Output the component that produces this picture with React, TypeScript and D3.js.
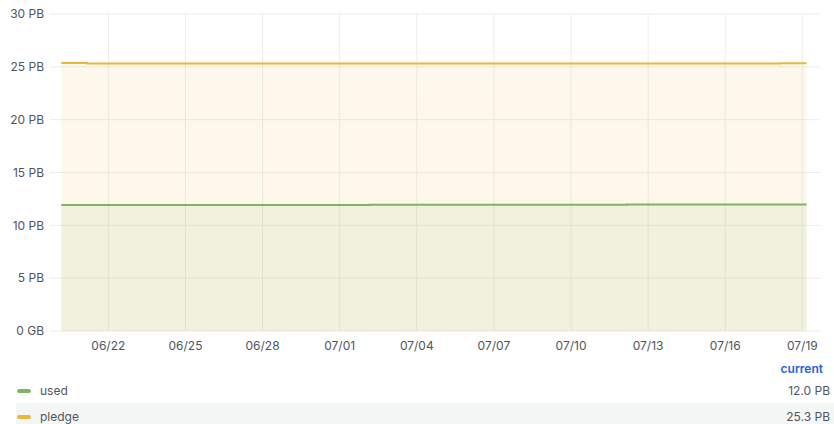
import React from "react";
import * as d3 from "d3";

const dates: string[] = [
  "2024-06-20T04:00", "2024-06-21T04:00", "2024-06-22T04:00", "2024-06-23T04:00", "2024-06-24T04:00",
  "2024-06-25T04:00", "2024-06-26T04:00", "2024-06-27T04:00", "2024-06-28T04:00", "2024-06-29T04:00",
  "2024-06-30T04:00", "2024-07-01T04:00", "2024-07-02T04:00", "2024-07-03T04:00", "2024-07-04T04:00",
  "2024-07-05T04:00", "2024-07-06T04:00", "2024-07-07T04:00", "2024-07-08T04:00", "2024-07-09T04:00",
  "2024-07-10T04:00", "2024-07-11T04:00", "2024-07-12T04:00", "2024-07-13T04:00", "2024-07-14T04:00",
  "2024-07-15T04:00", "2024-07-16T04:00", "2024-07-17T04:00", "2024-07-18T04:00", "2024-07-19T04:00",
];

// values in PB
const usedValues: number[] = [
  11.93, 11.93, 11.93, 11.93, 11.93, 11.93, 11.93, 11.93, 11.93, 11.93,
  11.93, 11.93, 11.95, 11.95, 11.95, 11.95, 11.95, 11.95, 11.95, 11.95,
  11.95, 11.95, 11.98, 11.98, 11.98, 11.98, 11.98, 11.98, 11.98, 11.98,
];
const pledgeValues: number[] = [
  25.36, 25.31, 25.31, 25.31, 25.31, 25.31, 25.31, 25.31, 25.31, 25.31,
  25.31, 25.31, 25.31, 25.31, 25.31, 25.31, 25.31, 25.31, 25.31, 25.31,
  25.31, 25.31, 25.31, 25.31, 25.31, 25.31, 25.31, 25.31, 25.34, 25.34,
];

const yTicks: number[] = [0, 5, 10, 15, 20, 25, 30];
const yTickLabels: string[] = ["0 GB", "5 PB", "10 PB", "15 PB", "20 PB", "25 PB", "30 PB"];
const xTickDates: string[] = [
  "2024-06-22", "2024-06-25", "2024-06-28", "2024-07-01", "2024-07-04",
  "2024-07-07", "2024-07-10", "2024-07-13", "2024-07-16", "2024-07-19",
];
const seriesNames: string[] = ["used", "pledge"];
const seriesCurrent: string[] = ["12.0 PB", "25.3 PB"];
const seriesColors: string[] = ["#7fb466", "#e9b83a"];

const parse = (s: string) => new Date(s.length > 10 ? s : s + "T00:00");

export default function App() {
  const W = 834, H = 424;
  const left = 50, right = 820, top = 14, bottom = 331;
  const x = d3.scaleTime()
    .domain([new Date(2024, 5, 19, 17, 30), new Date(2024, 6, 19, 16, 30)])
    .range([left, right]);
  const y = d3.scaleLinear().domain([0, 30]).range([bottom, top]);

  const used = dates.map((d, i) => ({ t: parse(d), v: usedValues[i] }));
  const pledge = dates.map((d, i) => ({ t: parse(d), v: pledgeValues[i] }));

  const line = d3.line<{ t: Date; v: number }>().x(d => x(d.t)).y(d => y(d.v)).curve(d3.curveStepAfter);
  const area = d3.area<{ t: Date; v: number }>().x(d => x(d.t)).y0(y(0)).y1(d => y(d.v)).curve(d3.curveStepAfter);

  const font = "Inter, 'Noto Sans', sans-serif";
  const textColor = "#4f555d";

  return (
    <svg width={W} height={H} style={{ position: "absolute", left: 0, top: 0, background: "#fff" }}>
      <g>
        {yTicks.map((t, i) => (
          <line key={"hy" + i} x1={left} x2={right} y1={y(t)} y2={y(t)} stroke="#ececec" strokeWidth={1} />
        ))}
        {xTickDates.map((d, i) => (
          <line key={"vx" + i} x1={x(parse(d))} x2={x(parse(d))} y1={top} y2={bottom} stroke="#ececec" strokeWidth={1} />
        ))}
      </g>
      <path d={area(pledge) || ""} fill={seriesColors[1]} fillOpacity={0.1} />
      <path d={area(used) || ""} fill={seriesColors[0]} fillOpacity={0.09} />
      <path d={line(pledge) || ""} fill="none" stroke={seriesColors[1]} strokeWidth={2} />
      <path d={line(used) || ""} fill="none" stroke={seriesColors[0]} strokeWidth={2} />
      {yTicks.map((t, i) => (
        <text key={"yl" + i} x={44} y={y(t)} dy="0.35em" textAnchor="end" fontFamily={font} fontSize={12} fill={textColor}>
          {yTickLabels[i]}
        </text>
      ))}
      {xTickDates.map((d, i) => (
        <text key={"xl" + i} x={x(parse(d))} y={346} dy="0.35em" textAnchor="middle" fontFamily={font} fontSize={12} fill={textColor}>
          {d3.timeFormat("%m/%d")(parse(d))}
        </text>
      ))}
      <text x={823} y={369} dy="0.35em" textAnchor="end" fontFamily={font} fontSize={12} fontWeight={600} fill="#1f62e0">
        current
      </text>
      <rect x={16} y={403} width={818} height={22} fill="#f4f5f5" />
      {seriesNames.map((n, i) => {
        const cy = 391 + i * 26;
        return (
          <g key={"lg" + i}>
            <rect x={17} y={cy - 2} width={14} height={4} rx={2} fill={seriesColors[i]} />
            <text x={40} y={cy} dy="0.35em" fontFamily={font} fontSize={12} fill={textColor}>{n}</text>
            <text x={830} y={cy} dy="0.35em" textAnchor="end" fontFamily={font} fontSize={12} fill={textColor}>{seriesCurrent[i]}</text>
          </g>
        );
      })}
    </svg>
  );
}
